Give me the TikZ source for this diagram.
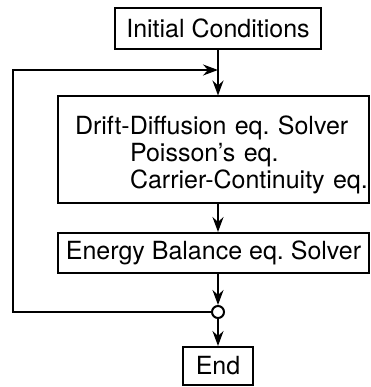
\documentclass[tikz,border=0pt]{standalone}
\usepackage{fontspec}
\setmainfont{TeX Gyre Heros}
\frenchspacing
\usetikzlibrary{arrows.meta, calc, positioning}
\tikzset{
    stepbox/.style={draw, line width=2pt, inner sep=0pt, font=\fontsize{25}{27}\selectfont},
    flow/.style={line width=2pt, -{Stealth[length=15pt, width=11pt, inset=5pt]}},
    joint/.style={draw, circle, line width=2pt, inner sep=0pt, minimum size=12pt}
}
\begin{document}
\begin{tikzpicture}[x=1pt, y=-1pt]
    \def \xm {218}
    \useasboundingbox (0,0) rectangle (370,387);
    \node[stepbox, minimum width=206pt, minimum height=41pt] (ic) at (\xm,28.5) {Initial Conditions};
    \node[stepbox, text width=277pt, inner xsep=17pt, align=left] (dd) at (213.5,149.5)
        {\mbox{\rule{0pt}{38pt}Drift-Diffusion eq. Solver}\\
         \mbox{\hspace*{55pt}Poisson's eq.}\\
         \mbox{\hspace*{55pt}Carrier-Continuity eq.\rule[-14pt]{0pt}{0pt}}};
    \node[stepbox, minimum width=311pt, minimum height=40pt] (eb) at (213.5,253) {Energy Balance eq. Solver};
    \node[joint] (jc) at (\xm,312) {};
    \node[stepbox, minimum width=70pt, minimum height=38pt] (end) at (\xm,366) {End};
    % feedback loop
    \coordinate (lp) at (13,70);
    \coordinate (jn) at (ic.south |- lp);
    \draw[flow] (ic.south) -- (ic.south |- dd.north);
    \draw[flow] (ic.south |- dd.south) -- (ic.south |- eb.north);
    \draw[flow] (ic.south |- eb.south) -- (jc.north);
    \draw[flow] (jc.south) -- (end.north);
    \draw[flow] (jc.west) -| (lp) -- (jn);
\end{tikzpicture}
\end{document}
